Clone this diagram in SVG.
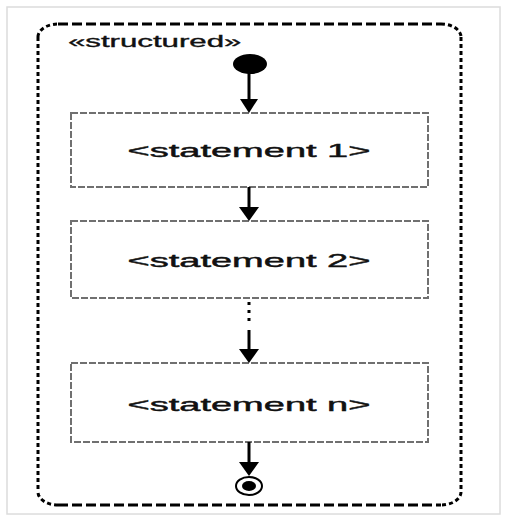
<svg xmlns="http://www.w3.org/2000/svg" width="505" height="521" viewBox="0 0 505 521">
<style>
.frame{fill:none;stroke:#000;stroke-width:3}
.h{stroke-dasharray:10 4}
.v{stroke-dasharray:4 3}
.box{fill:#fff;stroke:#707070;stroke-width:2;stroke-dasharray:7 2}
.lbl{font-family:"Liberation Sans",Arial,sans-serif;font-size:19px;fill:#111;stroke:#111;stroke-width:0.45;text-anchor:middle}
.conn{stroke:#000;stroke-width:3;fill:none}
.head{fill:#000}
</style>
<rect x="7" y="7" width="493" height="507" fill="#fff" stroke="#dcdcdc" stroke-width="1.5"/>
<g id="structured">
<path class="frame h" d="M58,24 H441 M58,505 H441"/>
<path class="frame v" d="M38,37 V492 M461,37 V492 M38,37 A20,13 0 0 1 58,24 M441,24 A20,13 0 0 1 461,37 M461,492 A20,13 0 0 1 441,505 M58,505 A20,13 0 0 1 38,492"/>
<text transform="translate(68,47) scale(1.95,1)" x="0" y="0" font-family="Liberation Sans,Arial,sans-serif" font-size="16" fill="#111" stroke="#111" stroke-width="0.35">«structured»</text>
</g>
<g id="initial">
<ellipse cx="250" cy="64" rx="17" ry="10" fill="#000"/>
</g>
<g id="statement1">
<rect class="box" x="71" y="113" width="357" height="74"/>
<text class="lbl" transform="translate(249,157) scale(2,1)" x="0" y="0">&lt;statement 1&gt;</text>
</g>
<g id="statement2">
<rect class="box" x="71" y="221" width="357" height="77"/>
<text class="lbl" transform="translate(249,267) scale(2,1)" x="0" y="0">&lt;statement 2&gt;</text>
</g>
<g id="statementn">
<rect class="box" x="71" y="363" width="357" height="79"/>
<text class="lbl" transform="translate(249,411) scale(2,1)" x="0" y="0">&lt;statement n&gt;</text>
</g>
<g id="final">
<ellipse cx="249" cy="486" rx="13" ry="9" fill="#fff" stroke="#000" stroke-width="2"/>
<ellipse cx="249" cy="486" rx="7" ry="5" fill="#000"/>
</g>
<g id="connectors">
<line class="conn" x1="249" y1="72" x2="249" y2="104"/>
<path class="head" d="M240,99 L258,99 L249,113 z"/>
<line class="conn" x1="249" y1="187" x2="249" y2="214"/>
<path class="head" d="M239,207 L259,207 L249,221 z"/>
<line class="conn" x1="249" y1="302" x2="249" y2="326" stroke-dasharray="3 5"/>
<line class="conn" x1="249" y1="330" x2="249" y2="356"/>
<path class="head" d="M239,349 L259,349 L249,363 z"/>
<line class="conn" x1="249" y1="442" x2="249" y2="468"/>
<path class="head" d="M239,462 L259,462 L249,476 z"/>
</g>
</svg>
